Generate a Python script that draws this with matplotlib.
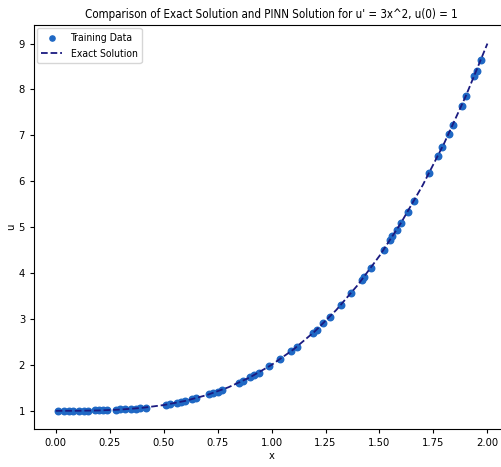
import matplotlib
matplotlib.use('Agg')
import matplotlib.pyplot as plt

plt.rcParams['font.family'] = ['DejaVu Sans']
plt.rcParams['font.stretch'] = 'condensed'

# training points
train_x = [0.01, 0.04, 0.06, 0.08, 0.11, 0.13, 0.15, 0.18, 0.20, 0.22, 0.24,
           0.28, 0.30, 0.32, 0.35, 0.37, 0.39, 0.42, 0.51, 0.53, 0.56, 0.58,
           0.60, 0.63, 0.65, 0.71, 0.73, 0.75, 0.77, 0.85, 0.87, 0.90, 0.92,
           0.94, 0.99, 1.04, 1.09, 1.12, 1.19, 1.21, 1.24, 1.27, 1.32, 1.37,
           1.42, 1.43, 1.46, 1.52, 1.55, 1.56, 1.58, 1.60, 1.63, 1.66, 1.73,
           1.77, 1.79, 1.82, 1.84, 1.88, 1.90, 1.94, 1.95, 1.97]
train_u = [1.00, 1.00, 1.00, 1.00, 1.00, 1.00, 1.00, 1.01, 1.01, 1.01, 1.01,
           1.02, 1.03, 1.03, 1.04, 1.05, 1.06, 1.07, 1.13, 1.15, 1.18, 1.20,
           1.22, 1.25, 1.27, 1.36, 1.39, 1.42, 1.46, 1.61, 1.66, 1.73, 1.78,
           1.83, 1.97, 2.12, 2.30, 2.40, 2.69, 2.77, 2.91, 3.05, 3.30, 3.57,
           3.86, 3.92, 4.11, 4.51, 4.72, 4.80, 4.94, 5.10, 5.33, 5.57, 6.18,
           6.55, 6.74, 7.03, 7.23, 7.64, 7.86, 8.30, 8.41, 8.65]

# exact solution curve
exact_x = [0.0, 0.1, 0.2, 0.3, 0.4, 0.5, 0.6, 0.7, 0.8, 0.9, 1.0,
           1.1, 1.2, 1.3, 1.4, 1.5, 1.6, 1.7, 1.8, 1.9, 2.0]
exact_u = [1.000, 1.001, 1.008, 1.027, 1.064, 1.125, 1.216, 1.343, 1.512,
           1.729, 2.000, 2.331, 2.728, 3.197, 3.744, 4.375, 5.096, 5.913,
           6.832, 7.859, 9.000]

fig = plt.figure(figsize=(5.01, 4.67), dpi=100)
ax = fig.add_axes([0.068, 0.081, 0.948, 0.865])

ax.scatter(train_x, train_u, s=22, color='#1f68c4', label='Training Data')
ax.plot(exact_x, exact_u, linestyle='--', color='#1a1a80', linewidth=1.3,
        label='Exact Solution')

ax.set_title("Comparison of Exact Solution and PINN Solution for u' = 3x^2, u(0) = 1",
             fontsize=8.3, pad=5)
ax.set_xlabel('x', fontsize=8, labelpad=2)
ax.set_ylabel('u', fontsize=8, labelpad=2)
ax.tick_params(labelsize=8, length=3)
ax.set_xticks([0.0, 0.25, 0.5, 0.75, 1.0, 1.25, 1.5, 1.75, 2.0])
ax.set_xticklabels(['0.00', '0.25', '0.50', '0.75', '1.00', '1.25', '1.50', '1.75', '2.00'])
ax.legend(loc='upper left', fontsize=7.5, borderaxespad=0.3, labelspacing=0.6,
          markerscale=0.8)

fig.savefig('out.png', dpi=100)
